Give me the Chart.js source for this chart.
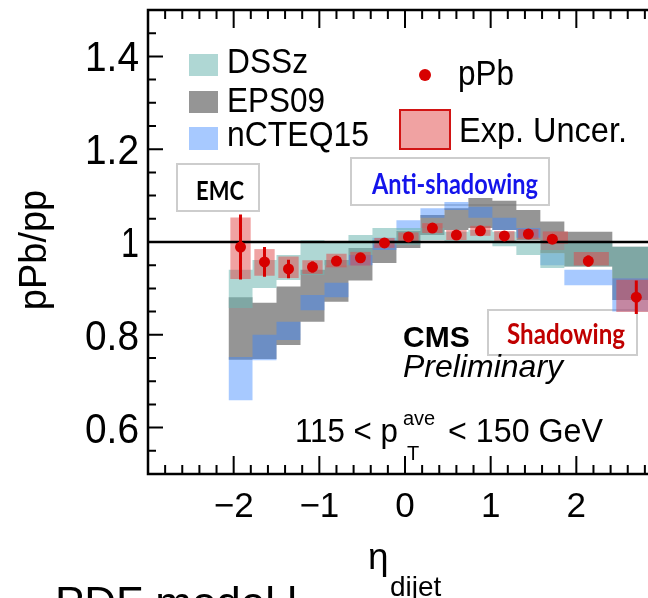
<!DOCTYPE html>
<html>
<head>
<meta charset="utf-8">
<script src="https://cdn.jsdelivr.net/npm/chart.js@4.4.1/dist/chart.umd.min.js"></script>
<style>
  html, body { margin: 0; padding: 0; background: #fff; overflow: hidden; }
  canvas { display: block; }
</style>
</head>
<body>
<canvas id="chart" width="700" height="598"></canvas>
<script>
// eta_dijet bins (edges) and bin centres
const binEdges = [-2.06, -1.78, -1.50, -1.22, -0.94, -0.66, -0.38, -0.10, 0.18, 0.46, 0.74, 1.02, 1.30, 1.58, 1.86, 2.42, 2.98];
const etaCenters = [-1.92, -1.64, -1.36, -1.08, -0.80, -0.52, -0.24, 0.04, 0.32, 0.60, 0.88, 1.16, 1.44, 1.72, 2.14, 2.70];

// pPb/pp data points, stat errors and exp. uncertainty boxes
const ratio   = [0.989, 0.957, 0.942, 0.946, 0.959, 0.966, 0.998, 1.011, 1.030, 1.015, 1.024, 1.013, 1.017, 1.006, 0.959, 0.881];
const statErr = [0.070, 0.032, 0.020, 0.012, 0.010, 0.010, 0.008, 0.008, 0.008, 0.008, 0.008, 0.008, 0.008, 0.010, 0.012, 0.036];
const expHi   = [1.052, 0.984, 0.968, 0.960, 0.974, 0.978, 1.008, 1.020, 1.040, 1.025, 1.034, 1.023, 1.027, 1.022, 0.978, 0.918];
const expLo   = [0.921, 0.928, 0.923, 0.932, 0.946, 0.950, 0.988, 1.002, 1.020, 1.005, 1.014, 1.003, 1.007, 0.997, 0.950, 0.850];

// nPDF predictions (bands)
const dsszHi  = [0.940, 0.961, 0.972, 1.004, 0.998, 1.015, 1.030, 1.030, 1.030, 1.022, 1.026, 1.022, 0.998, 0.983, 0.998, 0.990];
const dsszLo  = [0.858, 0.901, 0.918, 0.929, 0.950, 0.972, 0.994, 0.994, 1.004, 1.001, 1.000, 0.991, 0.972, 0.944, 0.947, 0.922];
const eps09Hi = [0.881, 0.869, 0.904, 0.940, 0.961, 0.987, 1.004, 1.024, 1.058, 1.073, 1.095, 1.089, 1.069, 1.044, 1.022, 0.990];
const eps09Lo = [0.746, 0.748, 0.778, 0.828, 0.871, 0.917, 0.955, 0.987, 1.015, 1.026, 1.030, 1.026, 1.004, 0.976, 0.947, 0.875];
const ncteqHi = [0.752, 0.800, 0.828, 0.886, 0.912, 0.972, 1.009, 1.047, 1.073, 1.086, 1.076, 1.052, 1.030, 0.976, 0.940, 0.922];
const ncteqLo = [0.659, 0.745, 0.789, 0.853, 0.881, 0.950, 0.983, 1.026, 1.052, 1.069, 1.052, 1.026, 1.009, 0.950, 0.907, 0.850];

const yTickValues = [0.6, 0.8, 1, 1.2, 1.4];
const yTickLabels = ['0.6', '0.8', '1', '1.2', '1.4'];
const xTickValues = [-2, -1, 0, 1, 2];
const xTickLabels = ['\u22122', '\u22121', '0', '1', '2'];

const FONT = "'Liberation Sans', Arial, Helvetica, sans-serif";
const BOLD = "Lato, 'Open Sans', sans-serif";

const colDSSz = 'rgba(110, 182, 177, 0.55)';
const colEPS = 'rgba(108, 108, 108, 0.72)';
const colNCTEQ = 'rgba(60, 135, 255, 0.45)';
const colExp = 'rgba(225, 70, 70, 0.5)';
const colRed = 'rgb(215, 0, 0)';

function stepLine(vals) {
  return binEdges.map((e, i) => ({ x: e, y: vals[Math.min(i, vals.length - 1)] }));
}

function band(label, lo, hi, color, order) {
  return [
    { type: 'line', label: label + ' up', data: stepLine(hi), stepped: true, borderColor: 'transparent',
      borderWidth: 0, pointRadius: 0, fill: false, order: order },
    { type: 'line', label: label, data: stepLine(lo), stepped: true, borderColor: 'transparent',
      borderWidth: 0, pointRadius: 0, fill: '-1', backgroundColor: color, order: order }
  ];
}

const errData = [];
etaCenters.forEach((x, i) => {
  errData.push({ x: x, y: ratio[i] - statErr[i] }, { x: x, y: ratio[i] + statErr[i] }, { x: x, y: null });
});

function txt(ctx, s, x, y, font, color, maxW, align) {
  ctx.font = font;
  ctx.fillStyle = color || '#000';
  ctx.textAlign = align || 'left';
  ctx.textBaseline = 'alphabetic';
  if (maxW) ctx.fillText(s, x, y, maxW);
  else ctx.fillText(s, x, y);
}

function noteBox(ctx, x0, y0, x1, y1) {
  ctx.fillStyle = '#fff';
  ctx.fillRect(x0, y0, x1 - x0, y1 - y0);
  ctx.strokeStyle = 'rgb(205,205,205)';
  ctx.lineWidth = 2;
  ctx.strokeRect(x0, y0, x1 - x0, y1 - y0);
}

// text boxes sitting behind the data
const notesPlugin = {
  id: 'notes',
  beforeDatasetsDraw(chart) {
    const ctx = chart.ctx;
    ctx.save();
    noteBox(ctx, 177, 164, 259, 211);
    txt(ctx, 'EMC', 196, 200, 'bold 27px ' + BOLD, '#000', 48);
    noteBox(ctx, 351, 158, 549, 205);
    txt(ctx, 'Anti-shadowing', 372, 194, 'bold 28px ' + BOLD, 'rgb(20,20,235)', 166);
    noteBox(ctx, 488, 310, 637, 355);
    txt(ctx, 'Shadowing', 507, 344, 'bold 28px ' + BOLD, 'rgb(192,0,0)', 118);
    ctx.restore();
  }
};

// ROOT style frame, inward ticks, labels, legend and text
const framePlugin = {
  id: 'frame',
  afterDraw(chart) {
    const { ctx, chartArea: a, scales: { x, y } } = chart;
    ctx.save();
    ctx.strokeStyle = '#000';
    ctx.lineWidth = 2;
    ctx.beginPath();
    for (let k = 10; k <= 30; k++) {
      const py = y.getPixelForValue(k * 0.05);
      const len = k % 4 === 0 ? 15 : 8;
      ctx.moveTo(a.left, py); ctx.lineTo(a.left + len, py);
    }
    for (let k = -15; k <= 15; k++) {
      const px = x.getPixelForValue(k * 0.2);
      const len = k % 5 === 0 ? 18 : 9;
      ctx.moveTo(px, a.bottom); ctx.lineTo(px, a.bottom - len);
      ctx.moveTo(px, a.top); ctx.lineTo(px, a.top + len);
    }
    ctx.stroke();
    ctx.lineWidth = 2.5;
    ctx.strokeRect(a.left, a.top, a.right - a.left, a.bottom - a.top);

    yTickValues.forEach((v, i) => {
      const s = yTickLabels[i];
      txt(ctx, s, a.left - 9, y.getPixelForValue(v) + 15, '42px ' + FONT, '#000', s.length * 18, 'right');
    });
    xTickValues.forEach((v, i) => {
      txt(ctx, xTickLabels[i], x.getPixelForValue(v), 517, '35px ' + FONT, '#000', null, 'center');
    });

    // axis titles
    ctx.save();
    ctx.translate(46, 250);
    ctx.rotate(-Math.PI / 2);
    txt(ctx, 'pPb/pp', 0, 0, '38px ' + FONT, '#000', 140, 'center');
    ctx.restore();
    txt(ctx, '\u03b7', 368, 569, '37px ' + FONT);
    txt(ctx, 'dijet', 390, 596, '28px ' + FONT, '#000', 52);

    // legend
    ctx.fillStyle = colDSSz; ctx.fillRect(189, 54, 29, 22);
    ctx.fillStyle = colEPS; ctx.fillRect(189, 91, 29, 22);
    ctx.fillStyle = colNCTEQ; ctx.fillRect(189, 127, 29, 23);
    txt(ctx, 'DSSz', 227, 73, '35px ' + FONT, '#000', 81);
    txt(ctx, 'EPS09', 227, 112, '35px ' + FONT, '#000', 98);
    txt(ctx, 'nCTEQ15', 227, 146, '35px ' + FONT, '#000', 142);
    ctx.fillStyle = colRed;
    ctx.beginPath(); ctx.arc(425, 75, 6, 0, Math.PI * 2); ctx.fill();
    txt(ctx, 'pPb', 458, 85, '35px ' + FONT, '#000', 56);
    ctx.fillStyle = colExp; ctx.fillRect(400, 110, 50, 39);
    ctx.strokeStyle = 'rgb(210,20,20)'; ctx.lineWidth = 2;
    ctx.strokeRect(400, 110, 50, 39);
    txt(ctx, 'Exp. Uncer.', 459, 142, '35px ' + FONT, '#000', 168);

    // CMS labels
    txt(ctx, 'CMS', 403, 347, 'bold 30px ' + FONT, '#000', 70);
    txt(ctx, 'Preliminary', 403, 377, 'italic 32px ' + FONT, '#000', 162);
    txt(ctx, '115 < p', 295, 442, '33px ' + FONT, '#000', 103);
    txt(ctx, 'ave', 403, 425, '20px ' + FONT, '#000', 34);
    txt(ctx, 'T', 407, 460, '20px ' + FONT);
    txt(ctx, '< 150 GeV', 448, 442, '33px ' + FONT, '#000', 155);

    // slide text peeking in at the bottom
    txt(ctx, 'PDF model l', 55, 618, '44px ' + FONT, '#000');
    ctx.restore();
  }
};

new Chart(document.getElementById('chart'), {
  type: 'line',
  data: {
    datasets: [
      { type: 'line', label: 'pPb', data: etaCenters.map((x, i) => ({ x: x, y: ratio[i] })), showLine: false,
        pointRadius: 5.5, pointBackgroundColor: colRed, pointBorderWidth: 0, borderColor: colRed, order: 0 },
      { type: 'line', label: 'stat', data: errData, borderColor: colRed, borderWidth: 3, pointRadius: 0,
        fill: false, spanGaps: false, order: 1 },
      { type: 'line', label: 'unity', data: [{ x: -3, y: 1 }, { x: 3, y: 1 }], borderColor: '#000', borderWidth: 2.5,
        pointRadius: 0, fill: false, order: 2 },
      { type: 'bar', label: 'Exp. Uncer.', data: etaCenters.map((x, i) => ({ x: x, y: [expLo[i], expHi[i]] })),
        backgroundColor: colExp, borderWidth: 0, barThickness: 'flex', categoryPercentage: 1, barPercentage: 0.82, order: 3 },
      ...band('DSSz', dsszLo, dsszHi, colDSSz, 4),
      ...band('nCTEQ15', ncteqLo, ncteqHi, colNCTEQ, 5),
      ...band('EPS09', eps09Lo, eps09Hi, colEPS, 6)
    ]
  },
  options: {
    responsive: false,
    animation: false,
    events: [],
    layout: { padding: { left: 148, right: 38, top: 10, bottom: 124 } },
    plugins: { legend: { display: false }, tooltip: { enabled: false } },
    scales: {
      x: { type: 'linear', min: -3, max: 3, offset: false, display: false },
      y: { type: 'linear', min: 0.5, max: 1.5, stacked: false, display: false }
    }
  },
  plugins: [notesPlugin, framePlugin]
});
</script>
</body>
</html>
